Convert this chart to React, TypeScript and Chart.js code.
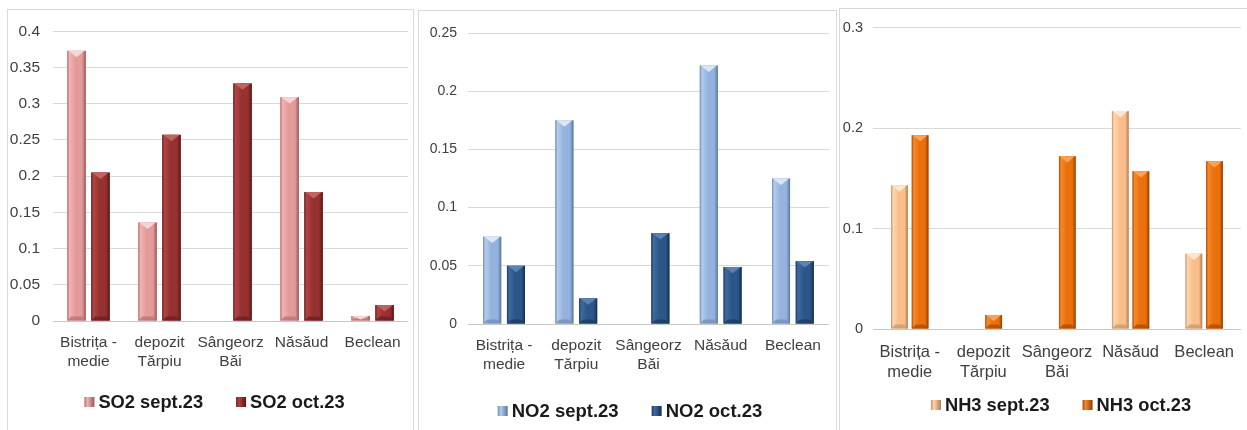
import React, { useEffect, useRef } from "react";
import { Chart, registerables } from "chart.js";
Chart.register(...registerables);

const FONT = "'Liberation Sans', Arial, sans-serif";

const categories: (string | string[])[] = [["Bistrița -", "medie"], ["depozit", "Tărpiu"], ["Sângeorz", "Băi"], "Năsăud", "Beclean"];

const so2Sept = [0.373, 0.136, null, 0.309, 0.007];
const so2Oct = [0.205, 0.257, 0.328, 0.178, 0.022];
const no2Sept = [0.075, 0.175, null, 0.222, 0.125];
const no2Oct = [0.05, 0.022, 0.078, 0.049, 0.054];
const nh3Sept = [0.143, null, null, 0.217, 0.075];
const nh3Oct = [0.193, 0.014, 0.172, 0.157, 0.167];

const so2Labels = ["SO2 sept.23", "SO2 oct.23"];
const no2Labels = ["NO2 sept.23", "NO2 oct.23"];
const nh3Labels = ["NH3 sept.23", "NH3 oct.23"];

const so2Axis = { max: 0.4, step: 0.05 };
const no2Axis = { max: 0.25, step: 0.05 };
const nh3Axis = { max: 0.3, step: 0.1 };

type Pal = { edge: string; light: string; main: string; dark: string; top: string; bottom: string };

const palSo2Sept: Pal = { edge: "#b86a6a", light: "#f0b4b4", main: "#e39a9a", dark: "#9c5555", top: "#f8d4d4", bottom: "#b97474" };
const palSo2Oct: Pal = { edge: "#6e1e1e", light: "#b04444", main: "#963131", dark: "#5a1414", top: "#c06262", bottom: "#6a2020" };
const palNo2Sept: Pal = { edge: "#6d8bb5", light: "#b5cdec", main: "#94b2db", dark: "#5a779f", top: "#d8e6f8", bottom: "#7390b8" };
const palNo2Oct: Pal = { edge: "#1b3a60", light: "#3d6aa0", main: "#2c5688", dark: "#142d4c", top: "#5a82b4", bottom: "#1d3c62" };
const palNh3Sept: Pal = { edge: "#c99164", light: "#ffd6b0", main: "#f9be8c", dark: "#b07c52", top: "#ffe6cf", bottom: "#cc9a6e" };
const palNh3Oct: Pal = { edge: "#a94c05", light: "#f7892a", main: "#ea700e", dark: "#8c3e04", top: "#fba257", bottom: "#a84d08" };

const bevelPlugin = {
  id: "bevel",
  afterDatasetsDraw(chart: any) {
    const ctx = chart.ctx as CanvasRenderingContext2D;
    chart.data.datasets.forEach((ds: any, di: number) => {
      const meta = chart.getDatasetMeta(di);
      const pal: Pal = ds.palette;
      meta.data.forEach((el: any, i: number) => {
        if (ds.data[i] == null) return;
        const { x, y, base, width } = el.getProps(["x", "y", "base", "width"], true);
        const l = x - width / 2;
        const r = x + width / 2;
        const t = Math.min(y, base);
        const b = Math.max(y, base);
        const h = b - t;
        ctx.save();
        const g = ctx.createLinearGradient(l, 0, r, 0);
        g.addColorStop(0, pal.edge);
        g.addColorStop(0.12, pal.light);
        g.addColorStop(0.45, pal.main);
        g.addColorStop(0.8, pal.main);
        g.addColorStop(1, pal.dark);
        ctx.fillStyle = g;
        ctx.fillRect(l, t, width, h);
        const bv = Math.min(4, h / 2, width / 4);
        // bottom bevel
        ctx.fillStyle = pal.bottom;
        ctx.globalAlpha = 0.8;
        ctx.beginPath();
        ctx.moveTo(l, b);
        ctx.lineTo(r, b);
        ctx.lineTo(r - bv, b - bv);
        ctx.lineTo(l + bv, b - bv);
        ctx.closePath();
        ctx.fill();
        // top chevron highlight
        ctx.globalAlpha = 1;
        ctx.fillStyle = pal.top;
        ctx.beginPath();
        ctx.moveTo(l + 1, t);
        ctx.lineTo(r - 1, t);
        ctx.lineTo(x, t + Math.min(bv * 1.6, h));
        ctx.closePath();
        ctx.fill();
        ctx.restore();
      });
    });
  },
};

const legendPlugin = {
  id: "customLegend",
  afterDraw(chart: any) {
    const o = chart.options.plugins.customLegend;
    if (!o) return;
    const ctx = chart.ctx as CanvasRenderingContext2D;
    ctx.save();
    ctx.font = `bold ${o.size}px ${FONT}`;
    const box = 10;
    const gapBoxText = 4;
    const gapItems = 33;
    const items = chart.data.datasets.map((ds: any) => ({ text: ds.label, pal: ds.palette as Pal, w: ctx.measureText(ds.label).width }));
    const total = items.reduce((s: number, it: any) => s + box + gapBoxText + it.w, 0) + gapItems * (items.length - 1);
    let x = o.cx - total / 2;
    items.forEach((it: any) => {
      const g = ctx.createLinearGradient(x, 0, x + box, 0);
      g.addColorStop(0, it.pal.edge);
      g.addColorStop(0.3, it.pal.light);
      g.addColorStop(1, it.pal.dark);
      ctx.fillStyle = g;
      ctx.fillRect(x, o.cy - box / 2, box, box);
      ctx.fillStyle = "#1a1a1a";
      ctx.textBaseline = "middle";
      ctx.textAlign = "left";
      ctx.fillText(it.text, x + box + gapBoxText, o.cy + 1);
      x += box + gapBoxText + it.w + gapItems;
    });
    ctx.restore();
  },
};

type PanelCfg = {
  left: number; top: number; w: number; h: number;
  yW: number; yPad: number; padR: number; padT: number; xH: number;
  lcx: number; lcy: number;
  tickSize: number; catSize: number; legSize: number; xPad: number;
  cp: number; bp: number;
  sept: (number | null)[]; oct: (number | null)[]; labels: string[];
  palS: Pal; palO: Pal; axis: { max: number; step: number };
};

function Panel({ cfg }: { cfg: PanelCfg }) {
  const ref = useRef<HTMLCanvasElement | null>(null);
  useEffect(() => {
    if (!ref.current) return;
    const chart = new Chart(ref.current, {
      type: "bar",
      data: {
        labels: categories as any,
        datasets: [
          { label: cfg.labels[0], data: cfg.sept as any, backgroundColor: cfg.palS.main, borderWidth: 0, categoryPercentage: cfg.cp, barPercentage: cfg.bp, palette: cfg.palS } as any,
          { label: cfg.labels[1], data: cfg.oct as any, backgroundColor: cfg.palO.main, borderWidth: 0, categoryPercentage: cfg.cp, barPercentage: cfg.bp, palette: cfg.palO } as any,
        ],
      },
      options: {
        animation: false,
        responsive: false,
        maintainAspectRatio: false,
        devicePixelRatio: 1,
        layout: { padding: { top: cfg.padT, right: cfg.padR, left: 0, bottom: 0 } },
        plugins: {
          legend: { display: false },
          tooltip: { enabled: false },
          customLegend: { cx: cfg.lcx, cy: cfg.lcy, size: cfg.legSize },
        } as any,
        scales: {
          x: {
            ticks: { color: "#404040", font: { size: cfg.catSize, family: FONT, lineHeight: 1.23 }, padding: cfg.xPad, maxRotation: 0, autoSkip: false },
            grid: { display: false, drawTicks: false },
            border: { display: false },
            afterFit: (s: any) => { s.height = cfg.xH; },
          },
          y: {
            min: 0,
            max: cfg.axis.max,
            ticks: {
              stepSize: cfg.axis.step,
              color: "#404040",
              font: { size: cfg.tickSize, family: FONT },
              padding: cfg.yPad,
              callback: (v: any) => String(parseFloat(Number(v).toFixed(2))),
            },
            grid: { color: (c: any) => (c.tick && c.tick.value === 0 ? "#c8c8c8" : "#d9d9d9"), drawTicks: false, lineWidth: 1 },
            border: { display: false },
            afterFit: (s: any) => { s.width = cfg.yW; },
          },
        },
      },
      plugins: [bevelPlugin, legendPlugin],
    });
    return () => chart.destroy();
  }, [cfg]);
  return (
    <canvas
      ref={ref}
      width={cfg.w}
      height={cfg.h}
      style={{ position: "absolute", left: cfg.left, top: cfg.top, width: cfg.w, height: cfg.h }}
    />
  );
}

const panels: PanelCfg[] = [
  {
    left: 8, top: 9, w: 405, h: 421, yW: 45, yPad: 13, padR: 4, padT: 13, xH: 109,
    lcx: 206.5, lcy: 393, tickSize: 15.5, catSize: 15.5, legSize: 18.3, xPad: 12,
    cp: 0.674, bp: 0.77, sept: so2Sept, oct: so2Oct, labels: so2Labels, palS: palSo2Sept, palO: palSo2Oct, axis: so2Axis,
  },
  {
    left: 418, top: 9, w: 415, h: 421, yW: 50, yPad: 11, padR: 1, padT: 24, xH: 106,
    lcx: 212, lcy: 402, tickSize: 14, catSize: 15.5, legSize: 18.5, xPad: 12,
    cp: 0.658, bp: 0.76, sept: no2Sept, oct: no2Oct, labels: no2Labels, palS: palNo2Sept, palO: palNo2Oct, axis: no2Axis,
  },
  {
    left: 839, top: 9, w: 408, h: 421, yW: 34, yPad: 10, padR: 0, padT: 16, xH: 101,
    lcx: 222, lcy: 396, tickSize: 14.5, catSize: 16.5, legSize: 18.3, xPad: 13,
    cp: 0.56, bp: 0.81, sept: nh3Sept, oct: nh3Oct, labels: nh3Labels, palS: palNh3Sept, palO: palNh3Oct, axis: nh3Axis,
  },
];

export default function App() {
  return (
    <div style={{ position: "fixed", left: 0, top: 0, width: 1247, height: 430, background: "#fff", overflow: "hidden" }}>
      <div style={{ position: "absolute", left: 7, top: 9, width: 405, height: 440, border: "1px solid #d9d9d9" }} />
      <div style={{ position: "absolute", left: 418, top: 10, width: 417, height: 440, border: "1px solid #d9d9d9" }} />
      <div style={{ position: "absolute", left: 839, top: 8, width: 420, height: 440, border: "1px solid #d9d9d9" }} />
      {panels.map((p, i) => (
        <Panel key={i} cfg={p} />
      ))}
    </div>
  );
}
